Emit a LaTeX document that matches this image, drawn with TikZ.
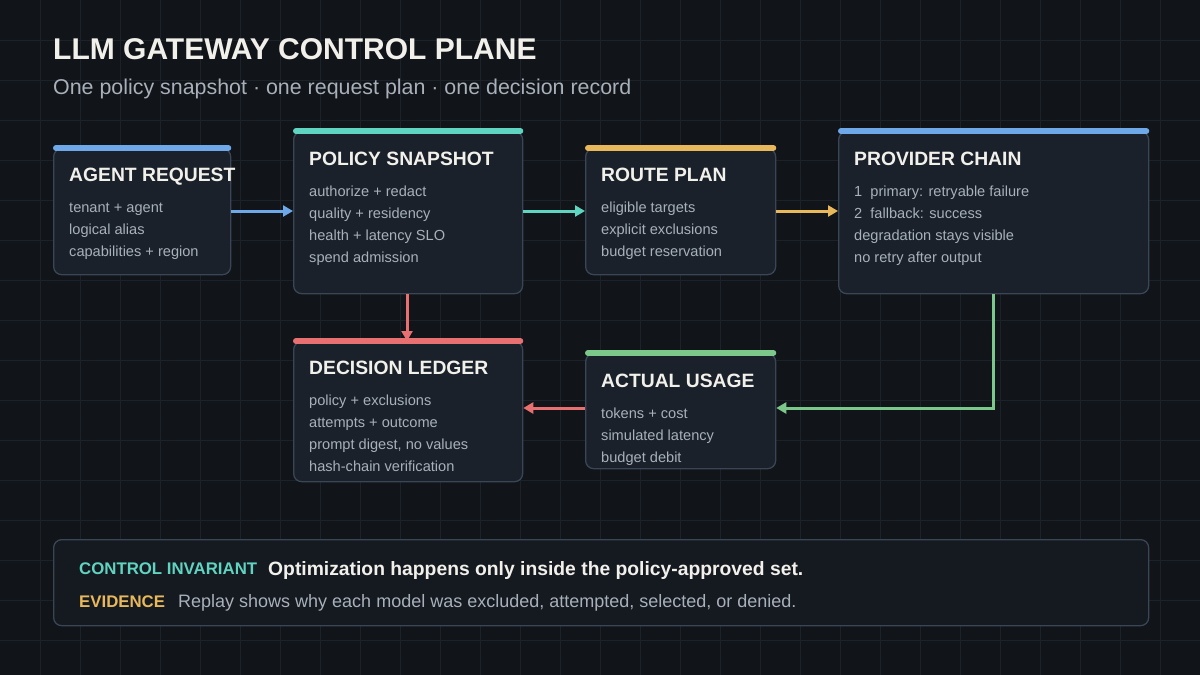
\documentclass[tikz,border=0pt]{standalone}
\usepackage{fontspec}
\setmainfont{Liberation Sans}
\usetikzlibrary{arrows.meta}
\definecolor{bg}{HTML}{111418}
\definecolor{gridc}{HTML}{1C222A}
\definecolor{boxfill}{HTML}{1A212B}
\definecolor{boxline}{HTML}{3A4655}
\definecolor{titlec}{HTML}{F2F0EA}
\definecolor{bodyc}{HTML}{A8B0BA}
\definecolor{cblue}{HTML}{6FA8E8}
\definecolor{cteal}{HTML}{5FD4C0}
\definecolor{cyellow}{HTML}{E8B85A}
\definecolor{cred}{HTML}{E87070}
\definecolor{cgreen}{HTML}{7CC88A}
\tikzset{
  box/.style={draw=boxline, fill=boxfill, line width=1.3pt, rounded corners=8pt, anchor=north west, inner sep=0pt},
  bar/.style={line width=6pt, line cap=round, shorten <=3pt, shorten >=3pt},
  head/.style={anchor=base west, yshift=-7pt, text=titlec, font=\fontsize{19.3}{21}\selectfont\bfseries, inner sep=0pt},
  body/.style={anchor=base west, yshift=-5pt, text=bodyc, font=\fontsize{14.6}{16}\selectfont, inner sep=0pt},
  arrow/.style={line width=3pt, -{Triangle[length=10pt, width=11pt]}},
}
\begin{document}
\begin{tikzpicture}[x=1pt, y=-1pt]
  \fill[bg] (0,0) rectangle (1200,675);
  \useasboundingbox (0,0) rectangle (1200,675);
  \foreach \i in {40,80,...,1160} \draw[gridc, line width=1pt] (\i,0) -- (\i,675);
  \foreach \j in {40,80,...,640} \draw[gridc, line width=1pt] (0,\j) -- (1200,\j);

  % title
  \node[anchor=base west, yshift=-10pt, text=titlec, font=\fontsize{30}{32}\selectfont\bfseries, inner sep=0pt] (title) at (53,49) {LLM GATEWAY CONTROL PLANE};
  \node[anchor=base west, yshift=-7pt, text=bodyc, font=\fontsize{21.4}{23}\selectfont, inner sep=0pt] (subtitle) at (53,87) {One policy snapshot · one request plan · one decision record};

  % boxes
  \node[box, minimum width=177pt, minimum height=126pt] (agent) at (53,148) {};
  \node[box, minimum width=229pt, minimum height=162pt] (policy) at (293,131) {};
  \node[box, minimum width=190pt, minimum height=126pt] (route) at (585,148) {};
  \node[box, minimum width=310pt, minimum height=162pt] (provider) at (838,131) {};
  \node[box, minimum width=229pt, minimum height=140pt] (ledger) at (293,341) {};
  \node[box, minimum width=190pt, minimum height=115pt] (usage) at (585,353) {};

  \draw[bar, cblue] (agent.north west) -- (agent.north east);
  \draw[bar, cteal] (policy.north west) -- (policy.north east);
  \draw[bar, cyellow] (route.north west) -- (route.north east);
  \draw[bar, cblue] (provider.north west) -- (provider.north east);
  \draw[bar, cred] (ledger.north west) -- (ledger.north east);
  \draw[bar, cgreen] (usage.north west) -- (usage.north east);

  % texts
  \node[head] (agentH) at (69,174) {AGENT REQUEST};
  \node[body] (agent1) at (69,207) {tenant + agent};
  \node[body] (agent2) at (69,229) {logical alias};
  \node[body] (agent3) at (69,251) {capabilities + region};

  \node[head] (policyH) at (309,158) {POLICY SNAPSHOT};
  \node[body] (policy1) at (309,191) {authorize + redact};
  \node[body] (policy2) at (309,213) {quality + residency};
  \node[body] (policy3) at (309,235) {health + latency SLO};
  \node[body] (policy4) at (309,257) {spend admission};

  \node[head] (routeH) at (601,174) {ROUTE PLAN};
  \node[body] (route1) at (601,207) {eligible targets};
  \node[body] (route2) at (601,229) {explicit exclusions};
  \node[body] (route3) at (601,251) {budget reservation};

  \node[head] (providerH) at (854,158) {PROVIDER CHAIN};
  \node[body] (provider1) at (854,191) {1\ \ primary: retryable failure};
  \node[body] (provider2) at (854,213) {2\ \ fallback: success};
  \node[body] (provider3) at (854,235) {degradation stays visible};
  \node[body] (provider4) at (854,257) {no retry after output};

  \node[head] (ledgerH) at (309,367) {DECISION LEDGER};
  \node[body] (ledger1) at (309,400) {policy + exclusions};
  \node[body] (ledger2) at (309,422) {attempts + outcome};
  \node[body] (ledger3) at (309,444) {prompt digest, no values};
  \node[body] (ledger4) at (309,466) {hash-chain verification};

  \node[head] (usageH) at (601,380) {ACTUAL USAGE};
  \node[body] (usage1) at (601,413) {tokens + cost};
  \node[body] (usage2) at (601,435) {simulated latency};
  \node[body] (usage3) at (601,457) {budget debit};

  % connectors
  \coordinate (c1) at (0,211);
  \coordinate (c2) at (0,408);
  \coordinate (c3) at (993,0);
  \coordinate (c4) at (407,0);
  \draw[arrow, cblue] (agent.east |- c1) -- (policy.west |- c1);
  \draw[arrow, cteal] (policy.east |- c1) -- (route.west |- c1);
  \draw[arrow, cyellow] (route.east |- c1) -- (provider.west |- c1);
  \draw[arrow, cred] (policy.south -| c4) -- (ledger.north -| c4);
  \draw[arrow, cgreen] (provider.south -| c3) |- (usage.east |- c2);
  \draw[arrow, cred] (usage.west |- c2) -- (ledger.east |- c2);

  % invariant panel
  \node[box, fill=bg!60!boxfill, minimum width=1095pt, minimum height=86pt] (panel) at (53,539) {};
  \node[anchor=base west, yshift=-6pt, text=cteal, font=\fontsize{16.8}{18}\selectfont\bfseries, inner sep=0pt] (invK) at (79,568) {CONTROL INVARIANT};
  \node[anchor=base west, yshift=-7pt, text=titlec, font=\fontsize{19.3}{21}\selectfont\bfseries, inner sep=0pt] (invV) at (268,568) {Optimization happens only inside the policy-approved set.};
  \node[anchor=base west, yshift=-6pt, text=cyellow, font=\fontsize{16.8}{18}\selectfont\bfseries, inner sep=0pt] (evK) at (79,601) {EVIDENCE};
  \node[anchor=base west, yshift=-6pt, text=bodyc, font=\fontsize{18}{20}\selectfont, inner sep=0pt] (evV) at (178,601) {Replay shows why each model was excluded, attempted, selected, or denied.};
\end{tikzpicture}
\end{document}
